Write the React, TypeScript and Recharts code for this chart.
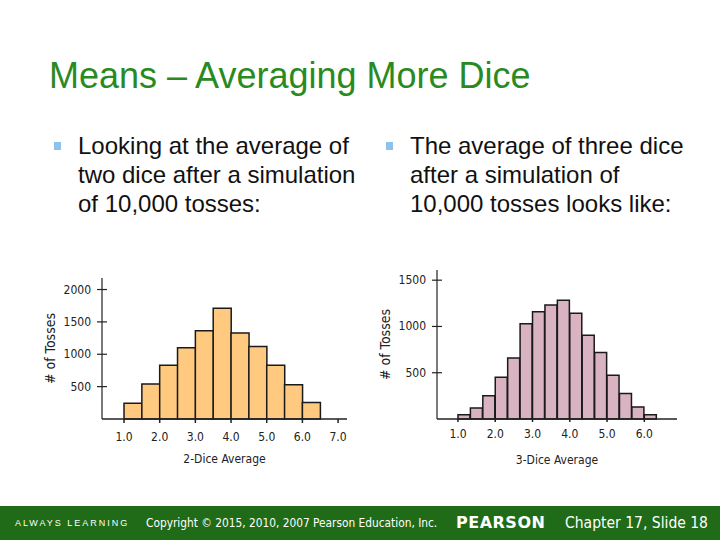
import React from 'react';
import { BarChart, Bar, XAxis, YAxis, Label } from 'recharts';

// 2-dice averages: bin start values and counts (10,000 tosses)
const twoDiceValues = [1.0, 1.5, 2.0, 2.5, 3.0, 3.5, 4.0, 4.5, 5.0, 5.5, 6.0];
const twoDiceCounts = [245, 540, 830, 1100, 1365, 1712, 1330, 1120, 830, 530, 255];
const twoDiceTicks = [1, 2, 3, 4, 5, 6, 7];
const twoDiceYTicks = [500, 1000, 1500, 2000];

// 3-dice averages
const threeDiceValues = [1, 4 / 3, 5 / 3, 2, 7 / 3, 8 / 3, 3, 10 / 3, 11 / 3, 4, 13 / 3, 14 / 3, 5, 16 / 3, 17 / 3, 6];
const threeDiceCounts = [45, 118, 250, 452, 658, 1030, 1160, 1232, 1282, 1142, 905, 718, 474, 275, 130, 45];
const threeDiceTicks = [1, 2, 3, 4, 5, 6];
const threeDiceYTicks = [500, 1000, 1500];

const chartFont = '"Liberation Sans Narrow", "DejaVu Sans Condensed", "Liberation Sans", sans-serif';
const slideFont = '"Liberation Sans", Arial, sans-serif';

const toBins = (values: number[], counts: number[], width: number) =>
  values.map((v, i) => ({ mid: v + width / 2, count: counts[i] }));

const twoDiceData = toBins(twoDiceValues, twoDiceCounts, 0.5);
const threeDiceData = toBins(threeDiceValues, threeDiceCounts, 1 / 3);

function CrossTick(props: any) {
  const { x, y, payload } = props;
  return (
    <g>
      <line x1={x - 5} x2={x + 5} y1={y} y2={y} stroke="#222" strokeWidth={1.2} />
      <text x={x - 11} y={y} dy={4} textAnchor="end" fontSize={12} fill="#222" fontFamily={chartFont}>
        {payload.value}
      </text>
    </g>
  );
}

function Bullet({ left, top, lines }: { left: number; top: number; lines: string[] }) {
  return (
    <div style={{ position: 'absolute', left, top }}>
      <div style={{ position: 'absolute', left: -24, top: 11, width: 7, height: 8, background: '#8DC3E8' }} />
      <div style={{ fontFamily: slideFont, fontSize: 24, lineHeight: '29px', color: '#111', whiteSpace: 'nowrap' }}>
        {lines.map((l) => (
          <div key={l}>{l}</div>
        ))}
      </div>
    </div>
  );
}

export default function App() {
  return (
    <div style={{ position: 'absolute', left: 0, top: 0, width: 720, height: 540, background: '#fff', overflow: 'hidden' }}>
      <div style={{ position: 'absolute', left: 49, top: 55, fontFamily: slideFont, fontSize: 36, color: '#2A8A22', whiteSpace: 'nowrap' }}>
        Means – Averaging More Dice
      </div>

      <Bullet left={78} top={131} lines={['Looking at the average of', 'two dice after a simulation', 'of 10,000 tosses:']} />
      <Bullet left={410} top={131} lines={['The average of three dice', 'after a simulation of', '10,000 tosses looks like:']} />

      <div style={{ position: 'absolute', left: 40, top: 260 }}>
        <BarChart
          width={320}
          height={215}
          data={twoDiceData}
          margin={{ top: 18, right: 13, bottom: 12, left: 5 }}
          barCategoryGap={0}
          barGap={0}
        >
          <XAxis
            dataKey="mid"
            type="number"
            domain={[0.383, 7.25]}
            allowDataOverflow
            ticks={twoDiceTicks}
            tickFormatter={(v: number) => v.toFixed(1)}
            height={44}
            tickSize={4}
            tickMargin={9}
            stroke="#222"
            strokeWidth={1.5}
            tick={{ fontSize: 12, fill: '#222', fontFamily: chartFont }}
          >
            <Label value="2-Dice Average" position="insideBottom" offset={0} style={{ fontSize: 12, fill: '#222', fontFamily: chartFont }} />
          </XAxis>
          <YAxis
            type="number"
            domain={[0, 2178]}
            ticks={twoDiceYTicks}
            width={57}
            tickLine={false}
            tickSize={0}
            tickMargin={0}
            stroke="#222"
            strokeWidth={1.2}
            tick={<CrossTick />}
          >
            <Label value="# of Tosses" angle={-90} position="insideLeft" offset={5} style={{ fontSize: 14, fill: '#222', fontFamily: chartFont, textAnchor: 'middle' }} />
          </YAxis>
          <Bar dataKey="count" fill="#FFC97F" stroke="#1a1a1a" strokeWidth={1.5} isAnimationActive={false} />
        </BarChart>
      </div>

      <div style={{ position: 'absolute', left: 370, top: 255 }}>
        <BarChart
          width={320}
          height={220}
          data={threeDiceData}
          margin={{ top: 15, right: 13, bottom: 11, left: 5 }}
          barCategoryGap={0}
          barGap={0}
        >
          <XAxis
            dataKey="mid"
            type="number"
            domain={[0.437, 6.877]}
            allowDataOverflow
            ticks={threeDiceTicks}
            tickFormatter={(v: number) => v.toFixed(1)}
            height={45}
            tickSize={3}
            tickMargin={7}
            stroke="#222"
            strokeWidth={1.5}
            tick={{ fontSize: 12, fill: '#222', fontFamily: chartFont }}
          >
            <Label value="3-Dice Average" position="insideBottom" offset={0} style={{ fontSize: 12, fill: '#222', fontFamily: chartFont }} />
          </XAxis>
          <YAxis
            type="number"
            domain={[0, 1610]}
            ticks={threeDiceYTicks}
            width={62}
            tickLine={false}
            tickSize={0}
            tickMargin={0}
            stroke="#222"
            strokeWidth={1.2}
            tick={<CrossTick />}
          >
            <Label value="# of Tosses" angle={-90} position="insideLeft" offset={10} style={{ fontSize: 14, fill: '#222', fontFamily: chartFont, textAnchor: 'middle' }} />
          </YAxis>
          <Bar dataKey="count" fill="#D9B3C2" stroke="#1a1a1a" strokeWidth={1.5} isAnimationActive={false} />
        </BarChart>
      </div>

      <div style={{ position: 'absolute', left: 0, top: 506, width: 720, height: 34, background: '#1F6B18', color: '#fff', whiteSpace: 'nowrap' }}>
        <div style={{ position: 'absolute', left: 15, top: 12, fontFamily: slideFont, fontSize: 9, letterSpacing: 2 }}>ALWAYS LEARNING</div>
        <div style={{ position: 'absolute', left: 146, top: 10, fontFamily: chartFont, fontSize: 11.8 }}>
          Copyright © 2015, 2010, 2007 Pearson Education, Inc.
        </div>
        <div style={{ position: 'absolute', left: 456, top: 7, fontFamily: '"DejaVu Sans", sans-serif', fontSize: 16, fontWeight: 'bold', letterSpacing: 0.5 }}>
          PEARSON
        </div>
        <div style={{ position: 'absolute', left: 565, top: 8, fontFamily: chartFont, fontSize: 15.5 }}>Chapter 17, Slide 18</div>
      </div>
    </div>
  );
}
